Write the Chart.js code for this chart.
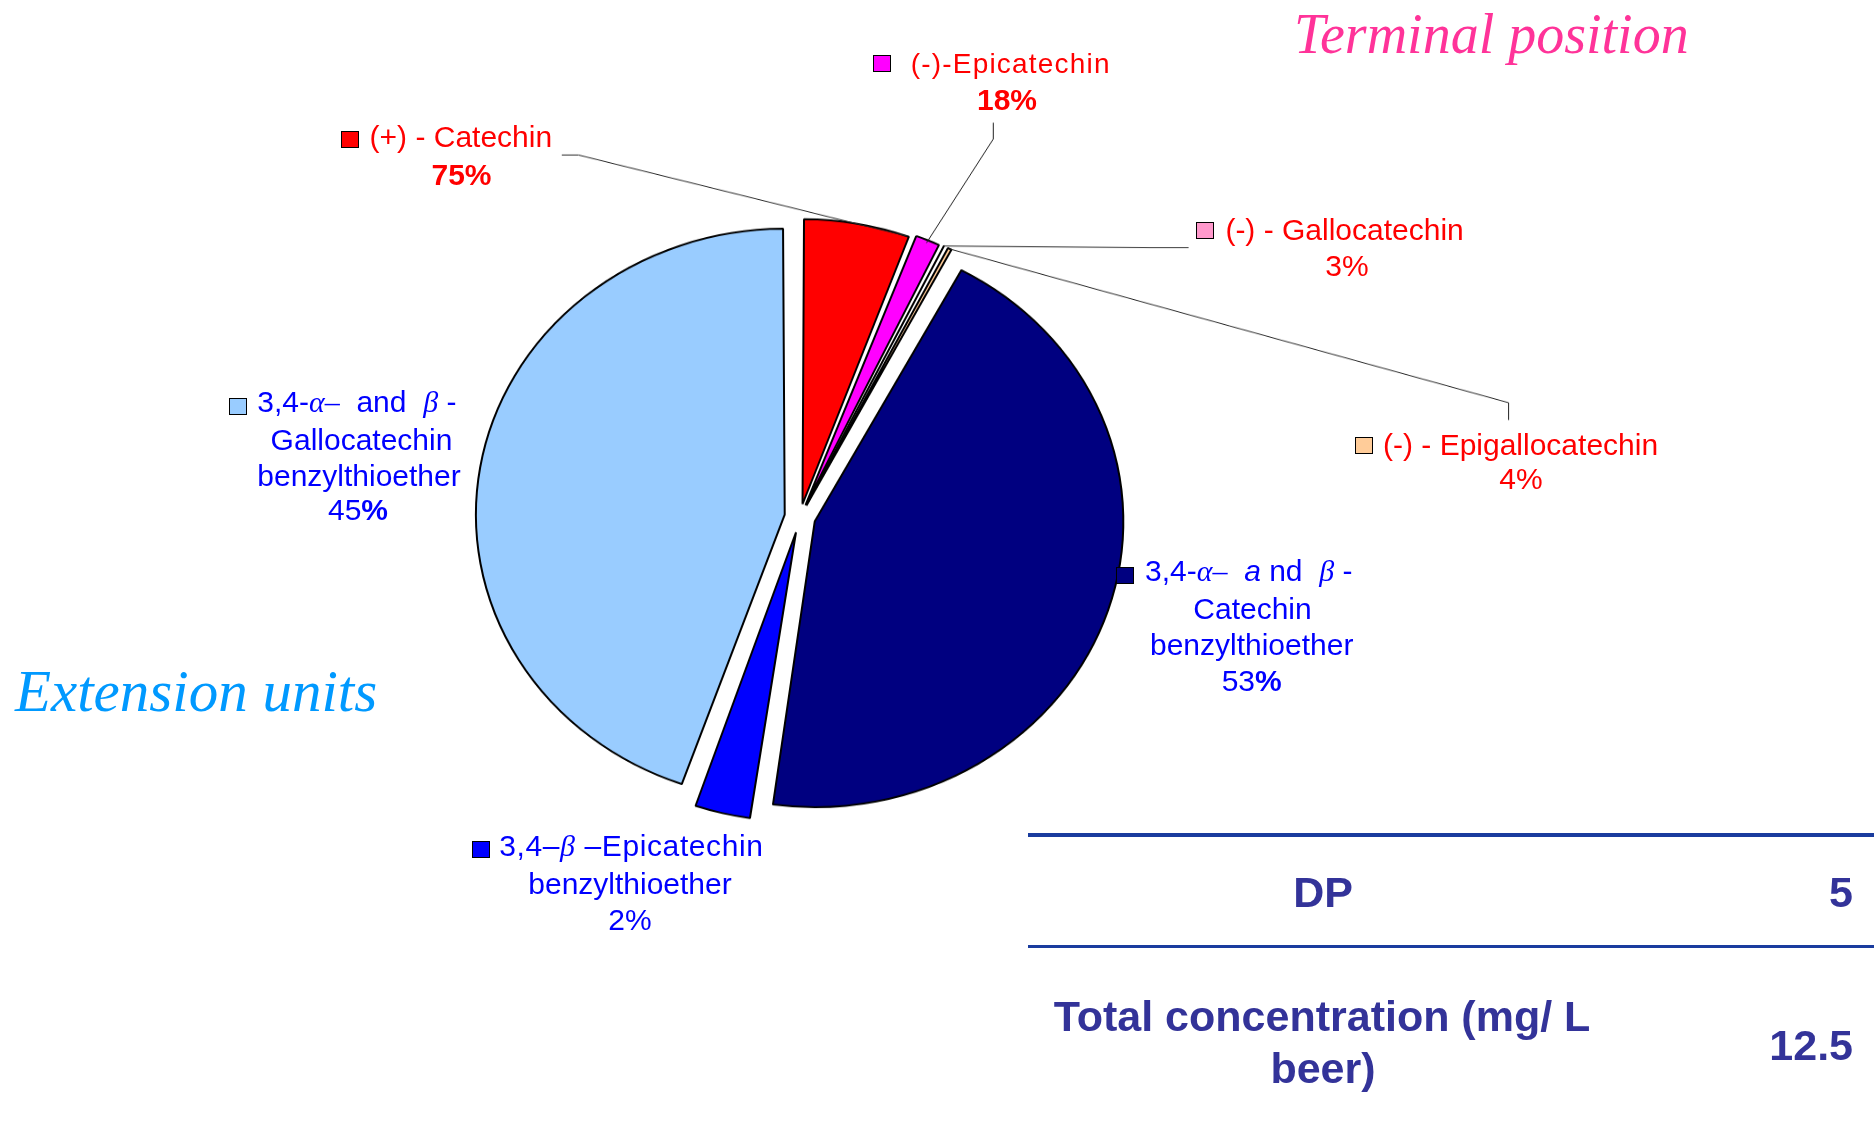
<!DOCTYPE html>
<html>
<head>
<meta charset="utf-8">
<script src="https://cdn.jsdelivr.net/npm/chart.js@4.4.1/dist/chart.umd.min.js"></script>
<style>
  html, body { margin:0; padding:0; background:#fff; overflow:hidden; }
  #page { position:relative; width:1874px; height:1134px; overflow:hidden; background:#fff; }
  #wrap { position:absolute; left:0; top:0; width:1874px; height:1225px; transform-origin:0 0; }
  .t { position:absolute; white-space:nowrap; font-family:"Liberation Sans", Arial, sans-serif; }
  .g { font-family:"Liberation Serif", "Times New Roman", serif; font-style:italic; }
  .key { position:absolute; box-sizing:border-box; border:1.6px solid #000; }
  .rule { position:absolute; left:1028px; width:846px; background:#1a3c9e; }
</style>
</head>
<body>
<div id="page">
  <div id="wrap"><canvas id="c" width="1874" height="1225"></canvas></div>
</div>
<script>
// ---- data ----
const sliceNames = ['(+) - Catechin', '(-)-Epicatechin', '(-) - Gallocatechin', '(-) - Epigallocatechin',
  '3,4-α- and β-Catechin benzylthioether', '3,4-β-Epicatechin benzylthioether', '3,4-α- and β-Gallocatechin benzylthioether'];
const sliceValues = [5.69, 1.47, 0.22, 0.42, 44.44, 3.08, 44.67];   // share of the pie (%)
const groupPercents = [75, 18, 3, 4, 53, 2, 45];                    // labelled % within group
const tableLabels = ['DP', 'Total concentration (mg/ L beer)'];
const tableValues = ['5', '12.5'];

// ---- styles ----
const sliceColors = ['#FF0000', '#FF00FF', '#FF99CC', '#FFCC99', '#000080', '#0000FF', '#99CCFF'];
const sliceExplode = [57, 56, 56, 56, 62, 68, 62];
const K = 1134 / 1225;
document.getElementById('wrap').style.transform = 'scaleY(' + K + ')';

const page = document.getElementById('page');
function put(html, x, base, o) {
  o = o || {};
  const size = o.size || 30;
  const d = document.createElement('div');
  d.className = 't';
  d.innerHTML = html;
  d.style.fontSize = size + 'px';
  d.style.lineHeight = size + 'px';
  d.style.color = o.color || '#000';
  if (o.font) d.style.fontFamily = o.font;
  if (o.bold) d.style.fontWeight = 'bold';
  if (o.italic) d.style.fontStyle = 'italic';
  if (o.ls) d.style.letterSpacing = o.ls + 'px';
  const off = o.serif ? 0.8375 : 0.8465;
  d.style.left = x + 'px';
  d.style.top = (base - off * size) + 'px';
  if (o.align === 'center') d.style.transform = 'translateX(-50%)';
  if (o.align === 'right') d.style.transform = 'translateX(-100%)';
  page.appendChild(d);
  return d;
}
function key(i, x, y) {
  const k = document.createElement('div');
  k.className = 'key';
  k.style.left = x + 'px'; k.style.top = y + 'px';
  k.style.width = '18px'; k.style.height = '17px';
  k.style.background = sliceColors[i];
  page.appendChild(k);
}
const RED = '#FF0000', BLUE = '#0000FF';
const pct = (i) => groupPercents[i] + '%';

// Terminal labels
key(0, 341, 131);
put(sliceNames[0], 369.6, 147.3, {color: RED});
put(pct(0), 461.5, 185, {color: RED, bold: true, align: 'center'});

key(1, 873, 55);
put(sliceNames[1], 910.7, 73.3, {color: RED, size: 28, ls: 1.2});
put(pct(1), 1007, 110, {color: RED, bold: true, align: 'center'});

key(2, 1196, 222);
put(sliceNames[2], 1225.4, 240, {color: RED});
put(pct(2), 1347, 276, {color: RED, align: 'center'});

key(3, 1355, 437);
put(sliceNames[3], 1383, 455, {color: RED});
put(pct(3), 1521, 489.3, {color: RED, align: 'center'});

// Extension labels
key(6, 229, 398);
put('3,4-<span class="g">α–</span>&nbsp; and &nbsp;<span class="g">β</span> -', 257.3, 412.7, {color: BLUE});
put('Gallocatechin', 361.5, 450, {color: BLUE, align: 'center'});
put('benzylthioether', 359, 486, {color: BLUE, align: 'center'});
put(groupPercents[6] + '<b>%</b>', 358, 520, {color: BLUE, align: 'center'});

key(4, 1116, 567);
put('3,4-<span class="g">α–</span>&nbsp; <i>a</i> nd&nbsp; <span class="g">β</span> -', 1145, 581.7, {color: BLUE});
put('Catechin', 1252.5, 619, {color: BLUE, align: 'center'});
put('benzylthioether', 1251.7, 655, {color: BLUE, align: 'center'});
put(groupPercents[4] + '<b>%</b>', 1251.7, 691.7, {color: BLUE, align: 'center'});

key(5, 472, 841);
put('3,4–<span class="g">β</span> –Epicatechin', 499.3, 856.7, {color: BLUE, ls: 0.6});
put('benzylthioether', 630, 894, {color: BLUE, align: 'center'});
put(pct(5), 630, 930, {color: BLUE, align: 'center'});

// Titles
put('Terminal position', 1294, 53.3, {font: '"Liberation Serif", serif', italic: true, size: 56, color: '#FF3399', serif: true});
put('Extension units', 15, 711.7, {font: '"Liberation Serif", serif', italic: true, size: 59, color: '#0099FF', serif: true});

// Table
const r1 = document.createElement('div'); r1.className = 'rule'; r1.style.top = '833px'; r1.style.height = '3.5px'; page.appendChild(r1);
const r2 = document.createElement('div'); r2.className = 'rule'; r2.style.top = '945px'; r2.style.height = '2.5px'; page.appendChild(r2);
const TB = {size: 43, bold: true, color: '#333399'};
put(tableLabels[0], 1323, 907.3, Object.assign({align: 'center'}, TB));
put(tableValues[0], 1853, 907.3, Object.assign({align: 'right'}, TB));
put('Total concentration (mg/ L', 1322, 1031.7, Object.assign({align: 'center'}, TB));
put('beer)', 1323, 1083.3, Object.assign({align: 'center'}, TB));
put(tableValues[1], 1853, 1060, Object.assign({align: 'right'}, TB));

// Leader lines: label anchor points (page coords) -> slice outer edge
const leaders = [
  {i: 0, frac: 0.97, rf: 1.0, pts: [[561.8, 155], [578.6, 155]]},
  {i: 1, frac: 0.5, rf: 0.99, pts: [[993.3, 122.7], [993.3, 139]]},
  {i: 2, frac: 0.5, rf: 1.0, pts: [[1188.6, 247.7], [1150, 247.7]]},
  {i: 3, frac: 0.5, rf: 1.0, pts: [[1508.6, 420], [1508.6, 402.7]]}
];
const leaderPlugin = {
  id: 'leaders',
  afterDatasetsDraw(chart) {
    const meta = chart.getDatasetMeta(0);
    const ctx = chart.ctx;
    ctx.save();
    ctx.strokeStyle = '#222';
    ctx.lineWidth = 1;
    leaders.forEach(L => {
      const arc = meta.data[L.i];
      const p = arc.getProps(['x', 'y', 'startAngle', 'endAngle', 'outerRadius'], true);
      const t = (arc.options.offset || 0) / 4;
      const mid = (p.startAngle + p.endAngle) / 2;
      const circ = p.endAngle - p.startAngle;
      const cx = p.x + Math.cos(mid) * t, cy = p.y + Math.sin(mid) * t;
      const R = (p.outerRadius + t * (1 - Math.sin(Math.min(Math.PI, circ)))) * L.rf;
      const a = p.startAngle + L.frac * circ;
      ctx.beginPath();
      L.pts.forEach((q, j) => {
        if (j === 0) ctx.moveTo(q[0], q[1] / K); else ctx.lineTo(q[0], q[1] / K);
      });
      ctx.lineTo(cx + Math.cos(a) * R, cy + Math.sin(a) * R);
      ctx.stroke();
    });
    ctx.restore();
  }
};

new Chart(document.getElementById('c'), {
  type: 'pie',
  data: {
    labels: sliceNames,
    datasets: [{
      data: sliceValues,
      backgroundColor: sliceColors,
      borderColor: '#000',
      borderWidth: 2,
      offset: sliceExplode,
      hoverOffset: 0
    }]
  },
  options: {
    responsive: false,
    maintainAspectRatio: false,
    animation: false,
    devicePixelRatio: 1,
    events: [],
    radius: 298.4,
    layout: {padding: {left: 0, right: 274, top: 0, bottom: 108}},
    plugins: {legend: {display: false}, tooltip: {enabled: false}, title: {display: false}}
  },
  plugins: [leaderPlugin]
});
</script>
</body>
</html>
